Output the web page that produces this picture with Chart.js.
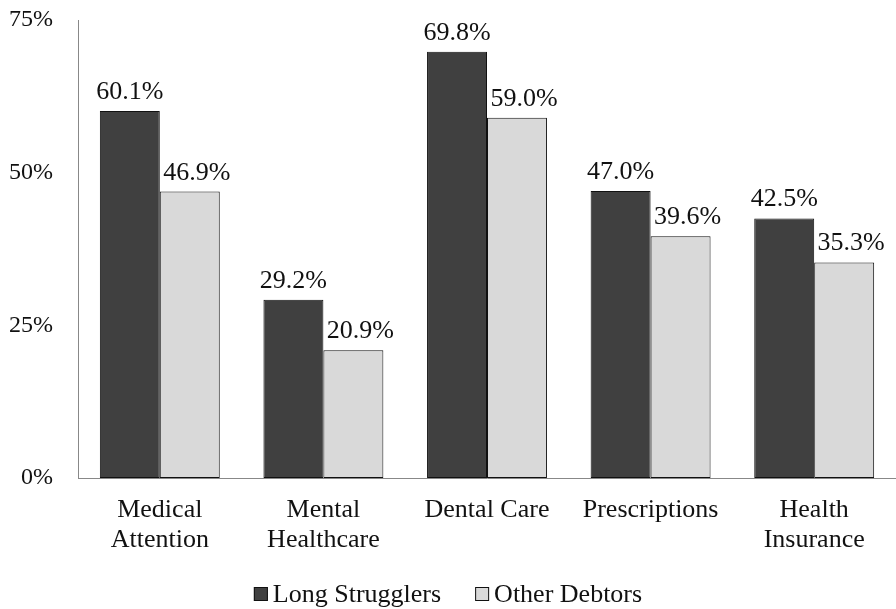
<!DOCTYPE html>
<html>
<head>
<meta charset="utf-8">
<script src="https://cdn.jsdelivr.net/npm/chart.js@4"></script>
<style>
  html, body { margin: 0; padding: 0; background: #fff; }
  #wrap { width: 896px; height: 609px; position: relative; }
</style>
</head>
<body>
<div id="wrap"><canvas id="chart"></canvas></div>
<script>
const categories = [['Medical', 'Attention'], ['Mental', 'Healthcare'], 'Dental Care', 'Prescriptions', ['Health', 'Insurance']];
const longStrugglers = [60.1, 29.2, 69.8, 47.0, 42.5];
const otherDebtors = [46.9, 20.9, 59.0, 39.6, 35.3];
const seriesNames = ['Long Strugglers', 'Other Debtors'];
const yTicks = [0, 25, 50, 75];

const FONT = '"Liberation Serif", "DejaVu Serif", serif';
const FONT_SIZE = 26;

// values above each bar
const barLabels = {
  id: 'barLabels',
  afterDatasetsDraw(chart) {
    const ctx = chart.ctx;
    ctx.save();
    ctx.font = FONT_SIZE + 'px ' + FONT;
    ctx.fillStyle = '#111';
    ctx.textAlign = 'center';
    ctx.textBaseline = 'alphabetic';
    chart.data.datasets.forEach((ds, i) => {
      const shift = i === 1 ? 7 : 0;
      chart.getDatasetMeta(i).data.forEach((bar, j) => {
        ctx.fillText(ds.data[j].toFixed(1) + '%', bar.x + shift, bar.y - 12);
      });
    });
    ctx.restore();
  }
};

// legend at the bottom, tight box/text spacing like the original
const bottomLegend = {
  id: 'bottomLegend',
  afterDraw(chart) {
    const ctx = chart.ctx;
    const box = 14, gap = 5, spacing = 34;
    const cy = 594;
    ctx.save();
    ctx.font = FONT_SIZE + 'px ' + FONT;
    const items = chart.data.datasets.map(ds => ({
      text: ds.label, fill: ds.backgroundColor, w: box + gap + ctx.measureText(ds.label).width
    }));
    const total = items.reduce((s, it) => s + it.w, 0) + spacing * (items.length - 1);
    let x = chart.width / 2 - total / 2;
    items.forEach(it => {
      ctx.fillStyle = it.fill;
      ctx.fillRect(x, cy - box / 2, box, box);
      ctx.strokeStyle = '#111';
      ctx.lineWidth = 1;
      ctx.strokeRect(x + 0.5, cy - box / 2 + 0.5, box - 1, box - 1);
      ctx.fillStyle = '#111';
      ctx.textBaseline = 'middle';
      ctx.textAlign = 'left';
      ctx.fillText(it.text, x + box + gap, cy + 1);
      x += it.w + spacing;
    });
    ctx.restore();
  }
};

new Chart(document.getElementById('chart'), {
  type: 'bar',
  data: {
    labels: categories,
    datasets: [{
      label: seriesNames[0],
      data: longStrugglers,
      backgroundColor: '#404040',
      borderColor: '#111',
      borderWidth: 1,
      borderSkipped: false
    }, {
      label: seriesNames[1],
      data: otherDebtors,
      backgroundColor: '#d9d9d9',
      borderColor: '#111',
      borderWidth: 1,
      borderSkipped: false
    }]
  },
  options: {
    responsive: true,
    maintainAspectRatio: false,
    animation: false,
    layout: { padding: { top: 20, right: 0, left: 0, bottom: 45 } },
    datasets: { bar: { barPercentage: 1, categoryPercentage: 0.733 } },
    plugins: {
      tooltip: { enabled: false },
      legend: { display: false }
    },
    scales: {
      x: {
        grid: { display: false },
        border: { display: true, color: '#888', width: 1 },
        ticks: {
          color: '#111',
          padding: 9,
          maxRotation: 0,
          font: { size: FONT_SIZE, family: FONT, lineHeight: '30px' }
        }
      },
      y: {
        min: 0,
        max: 75,
        afterBuildTicks(axis) { axis.ticks = yTicks.map(v => ({ value: v })); },
        afterFit(axis) { axis.width = 78; },
        grid: { display: false, tickLength: 25 },
        border: { display: true, color: '#888', width: 1 },
        ticks: {
          color: '#111',
          padding: 0,
          font: { size: 24, family: FONT },
          callback: v => v + '%'
        }
      }
    }
  },
  plugins: [barLabels, bottomLegend]
});
</script>
</body>
</html>
